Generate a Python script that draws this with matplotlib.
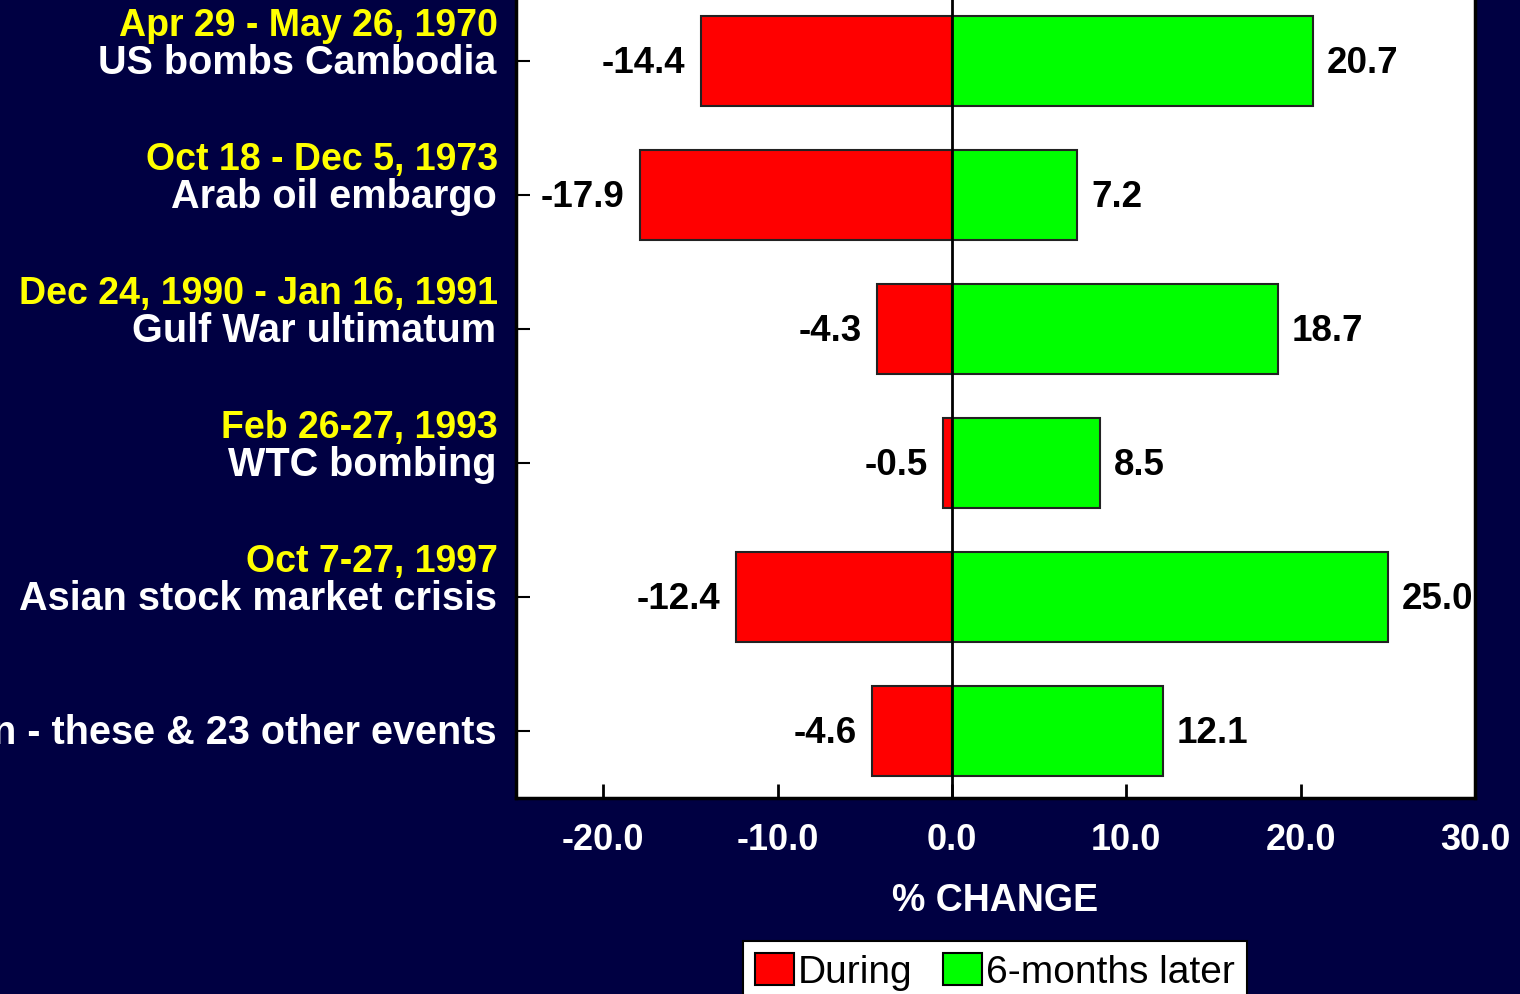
import matplotlib.pyplot as plt
from matplotlib.patches import Patch

# data, top row first
dates = ["Apr 29 - May 26, 1970", "Oct 18 - Dec 5, 1973", "Dec 24, 1990 - Jan 16, 1991",
         "Feb 26-27, 1993", "Oct 7-27, 1997", ""]
events = ["US bombs Cambodia", "Arab oil embargo", "Gulf War ultimatum",
          "WTC bombing", "Asian stock market crisis", "Median - these & 23 other events"]
during = [-14.4, -17.9, -4.3, -0.5, -12.4, -4.6]
later = [20.7, 7.2, 18.7, 8.5, 25.0, 12.1]
xticks = [-20, -10, 0, 10, 20, 30]

bg = '#000042'
red = '#ff0000'
green = '#00ff00'
plt.rcParams['font.family'] = ['Liberation Sans', 'DejaVu Sans']

fig = plt.figure(figsize=(15.2, 9.95), dpi=100, facecolor=bg)
ax = fig.add_axes([0.3395, 0.197, 0.6309, 0.808])
ax.set_facecolor('white')

y = list(range(len(events)))
ax.barh(y, during, height=0.67, color=red, edgecolor='#222222', linewidth=1.5, zorder=2)
ax.barh(y, later, height=0.67, color=green, edgecolor='#222222', linewidth=1.5, zorder=2)
ax.axvline(0, color='black', lw=2, zorder=3)

ax.set_xlim(-25, 30)
ax.set_ylim(len(events) - 0.5, -0.5)

for i, (d, l) in enumerate(zip(during, later)):
    ax.annotate(f"{d:.1f}", xy=(d, i), xytext=(-11, -1), textcoords='offset points',
                ha='right', va='center', fontsize=26.5, fontweight='bold', color='black')
    ax.annotate(f"{l:.1f}", xy=(l, i), xytext=(10, -1), textcoords='offset points',
                ha='left', va='center', fontsize=26.5, fontweight='bold', color='black')

# two-line category labels: yellow date above white event name
ytrans = ax.get_yaxis_transform()
for i, (dt, ev) in enumerate(zip(dates, events)):
    ax.annotate(ev, xy=(0, i), xycoords=ytrans, xytext=(-14, -1), textcoords='offset points',
                ha='right', va='center', fontsize=28.5, fontweight='bold', color='white')
    if dt:
        ax.annotate(dt, xy=(0, i), xycoords=ytrans, xytext=(-13, 26), textcoords='offset points',
                    ha='right', va='center', fontsize=27, fontweight='bold', color='#ffff00')

ax.set_yticks(y)
ax.set_yticklabels([])
ax.tick_params(axis='y', direction='in', length=10, width=1.5, color='black')
ax.set_xticks(xticks)
ax.set_xticklabels([f"{t:.1f}" for t in xticks], fontsize=26,
                   fontweight='bold', color='white')
ax.tick_params(axis='x', direction='in', length=10, width=2, color='black', pad=17)
for s in ax.spines.values():
    s.set_color('black')
    s.set_linewidth(2.5)

ax.set_xlabel('% CHANGE', fontsize=27, fontweight='bold', color='white', labelpad=18)

handles = [Patch(facecolor=red, edgecolor='black', linewidth=1.5, label='During'),
           Patch(facecolor=green, edgecolor='black', linewidth=1.5, label='6-months later')]
leg = fig.legend(handles=handles, loc='upper center', bbox_to_anchor=(995 / 1520, 1 - 942 / 995),
                 ncol=2, frameon=True, fancybox=False, prop={'size': 28},
                 handlelength=1.0, handleheight=0.9, handletextpad=0.1, columnspacing=0.8,
                 borderpad=0.3, borderaxespad=0, framealpha=1)
leg.get_frame().set_edgecolor('black')
leg.get_frame().set_facecolor('white')
leg.get_frame().set_linewidth(1.5)

fig.savefig('out.png', dpi=100, facecolor=bg)
